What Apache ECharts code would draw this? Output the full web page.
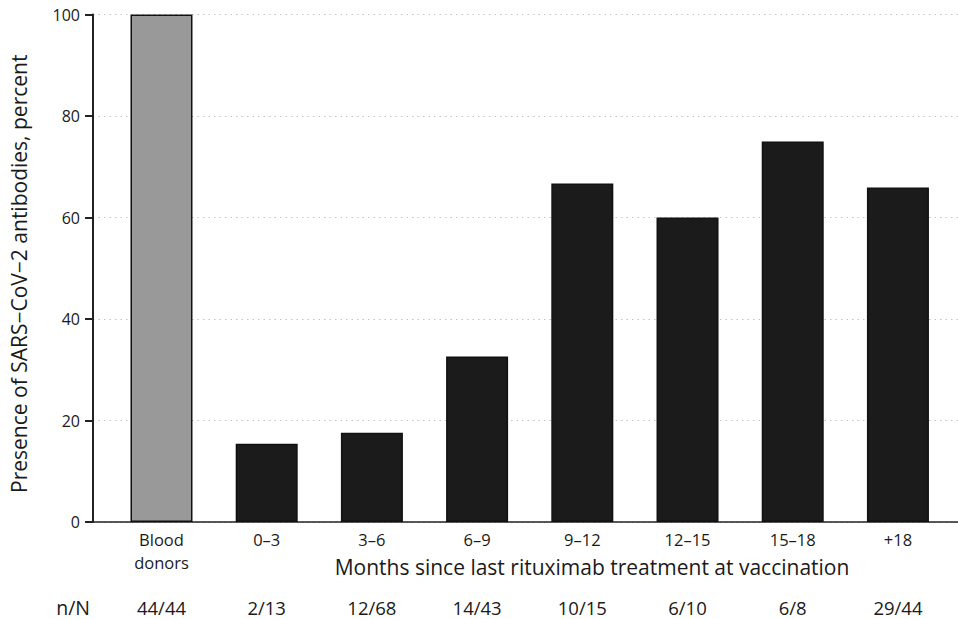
<!DOCTYPE html>
<html>
<head>
<meta charset="utf-8">
<script src="https://cdn.jsdelivr.net/npm/echarts@6/dist/echarts.min.js"></script>
<style>html,body{margin:0;padding:0;background:#fff}#c{width:958px;height:619px}</style>
</head>
<body>
<div id="c"></div>
<script>
const categories = ['Blood\ndonors', '0\u20133', '3\u20136', '6\u20139', '9\u201312', '12\u201315', '15\u201318', '+18'];
const values = [100, 15.4, 17.6, 32.6, 66.7, 60, 75, 65.9];
const nN = ['44/44', '2/13', '12/68', '14/43', '10/15', '6/10', '6/8', '29/44'];
const yTicks = [0, 20, 40, 60, 80, 100];
const positions = categories.map((c, i) => i);

const FONT = '"Open Sans", "Noto Sans", sans-serif';
const chart = echarts.init(document.getElementById('c'), null, {renderer: 'svg'});
chart.setOption({
  animation: false,
  backgroundColor: '#fff',
  grid: {left: 90, right: 0, top: 14.5, bottom: 97},
  xAxis: [{
    type: 'value', min: -0.651, max: 7.571,
    axisLine: {show: true, onZero: false, lineStyle: {color: '#222', width: 1.5}},
    axisTick: {show: false},
    splitLine: {show: false},
    axisLabel: {
      customValues: positions, margin: 6, color: '#1a1a1a', fontSize: 16.5, lineHeight: 23,
      fontFamily: FONT, formatter: v => categories[Math.round(v)]
    }
  }, {
    type: 'value', min: -0.651, max: 7.571, position: 'bottom', offset: 85,
    axisLine: {show: false}, axisTick: {show: false}, splitLine: {show: false},
    axisLabel: {
      customValues: positions, margin: 0, verticalAlign: 'middle', color: '#1a1a1a', fontSize: 18.5,
      fontFamily: FONT, formatter: v => nN[Math.round(v)]
    }
  }],
  yAxis: {
    type: 'value', min: 0, max: 100, interval: 20,
    name: 'Presence of SARS\u2212CoV\u22122 antibodies, percent',
    nameLocation: 'middle', nameGap: 64,
    nameTextStyle: {color: '#1a1a1a', fontSize: 21, fontFamily: FONT, padding: [0, 11, 0, 0]},
    axisLine: {show: true, onZero: false, lineStyle: {color: '#222', width: 2}},
    axisTick: {show: true, length: 8, lineStyle: {color: '#222', width: 2}},
    axisLabel: {margin: 13, color: '#1a1a1a', fontSize: 16, fontFamily: FONT,
      customValues: yTicks},
    splitLine: {show: true, lineStyle: {color: '#c4c4c4', type: [1.5, 4], width: 1}}
  },
  graphic: [{
    type: 'text', x: 592, y: 567,
    style: {text: 'Months since last rituximab treatment at vaccination', fill: '#1a1a1a',
      fontSize: 21, fontFamily: FONT, align: 'center', verticalAlign: 'middle'}
  }, {
    type: 'text', x: 90, y: 607,
    style: {text: 'n/N', fill: '#1a1a1a', fontSize: 19.5, fontFamily: FONT,
      align: 'right', verticalAlign: 'middle'}
  }],
  series: [{
    type: 'bar', xAxisIndex: 0, barWidth: 62,
    data: values.map((v, i) => ({
      value: [i, v],
      itemStyle: {color: i === 0 ? '#999999' : '#1b1b1b', borderColor: '#111', borderWidth: 1.5}
    }))
  }]
});
</script>
</body>
</html>
